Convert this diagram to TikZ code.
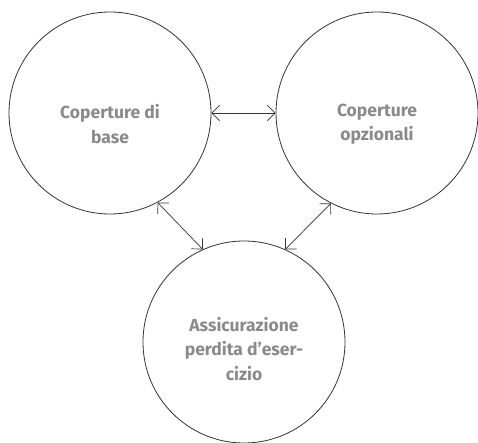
\documentclass[tikz,border=0pt]{standalone}
\usepackage{tikz}
\usepackage{xcolor}
\usepackage{fontspec}
\setmainfont{Fira Sans}
\newfontfamily\capfont{Fira Sans}[UprightFont=*, BoldFont=* Bold]
\usetikzlibrary{arrows.meta}

\definecolor{capgray}{HTML}{8A8A8A}
\definecolor{rimgray}{HTML}{333333}

\begin{document}
\begin{tikzpicture}[x=1pt, y=1pt,
      bubble/.style={circle, draw=rimgray, line width=0.8pt, minimum size=202pt, inner sep=0pt},
      caption/.style={align=center, text=capgray, font=\capfont\bfseries\fontsize{17.5}{24.5}\selectfont},
      link/.style={draw=rimgray, line width=0.7pt, {Straight Barb[angle=90:11pt]}-{Straight Barb[angle=90:11pt]}} ]
          \useasboundingbox (0,0) rectangle (478,-443);
          \node[bubble] (base) at (110,-113) {};
          \node[bubble] (opz) at (377,-113) {};
          \node[bubble] (perd) at (244,-342) {};
          \node[caption] (tbase) at ([yshift=-11pt]base.center) {Coperture di\\base};
          \node[caption] (topz) at ([yshift=-11pt]opz.center) {Coperture\\opzionali};
          \node[caption] (tperd) at ([yshift=-7pt]perd.center) {Assicurazione\\perdita d’eser-\\cizio};
          \draw[link] (base.0) -- (opz.180);
          \draw[link] (base.-62) -- (perd.114);
          \draw[link] (opz.-117) -- (perd.66);
        \end{tikzpicture}
\end{document}
